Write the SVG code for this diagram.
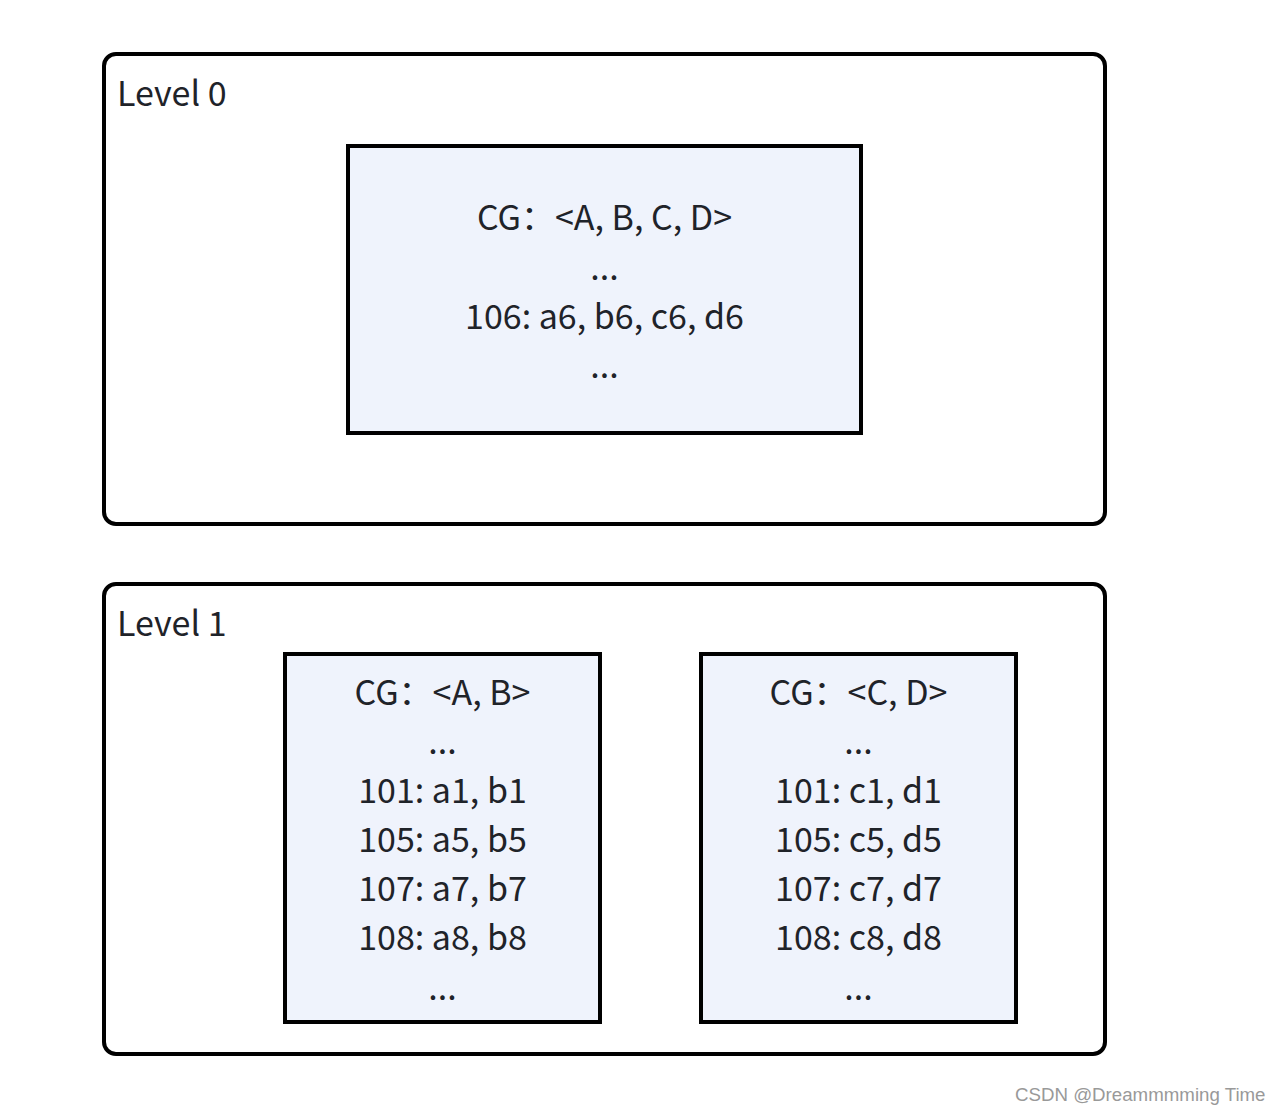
<svg xmlns="http://www.w3.org/2000/svg" width="1280" height="1114" viewBox="0 0 1280 1114">
<style>
.outer{fill:#ffffff;stroke:#000000;stroke-width:4}
.inner{fill:#eff3fc;stroke:#000000;stroke-width:4}
.t{font-family:"Noto Sans CJK SC","Noto Sans",sans-serif;font-size:34px;fill:#1f2329}
.c{text-anchor:middle}
.wm{font-family:"Liberation Sans",Arial,sans-serif;font-size:18.7px;fill:#999999}
</style>
<rect width="1280" height="1114" fill="#ffffff"/>
<g id="level0">
<rect class="outer" x="104" y="54" width="1001" height="470" rx="12"/>
<text class="t" x="117" y="106">Level 0</text>
</g>
<g id="cg-abcd">
<rect class="inner" x="348" y="146" width="513" height="287"/>
<text class="t c" x="604.5" y="230">CG：<tspan>&lt;A, B, C, D&gt;</tspan></text>
<text class="t c" x="604.5" y="280">...</text>
<text class="t c" x="604.5" y="329">106: a6, b6, c6, d6</text>
<text class="t c" x="604.5" y="378">...</text>
</g>
<g id="level1">
<rect class="outer" x="104" y="584" width="1001" height="470" rx="12"/>
<text class="t" x="117" y="636">Level 1</text>
</g>
<g id="cg-ab">
<rect class="inner" x="285" y="654" width="315" height="368"/>
<text class="t c" x="442.5" y="705">CG：&lt;A, B&gt;</text>
<text class="t c" x="442.5" y="754">...</text>
<text class="t c" x="442.5" y="803">101: a1, b1</text>
<text class="t c" x="442.5" y="852">105: a5, b5</text>
<text class="t c" x="442.5" y="901">107: a7, b7</text>
<text class="t c" x="442.5" y="950">108: a8, b8</text>
<text class="t c" x="442.5" y="1000">...</text>
</g>
<g id="cg-cd">
<rect class="inner" x="701" y="654" width="315" height="368"/>
<text class="t c" x="858.5" y="705">CG：&lt;C, D&gt;</text>
<text class="t c" x="858.5" y="754">...</text>
<text class="t c" x="858.5" y="803">101: c1, d1</text>
<text class="t c" x="858.5" y="852">105: c5, d5</text>
<text class="t c" x="858.5" y="901">107: c7, d7</text>
<text class="t c" x="858.5" y="950">108: c8, d8</text>
<text class="t c" x="858.5" y="1000">...</text>
</g>
<g id="connectors"></g>
<text class="wm" x="1015" y="1101">CSDN @Dreammmming Time</text>
</svg>
